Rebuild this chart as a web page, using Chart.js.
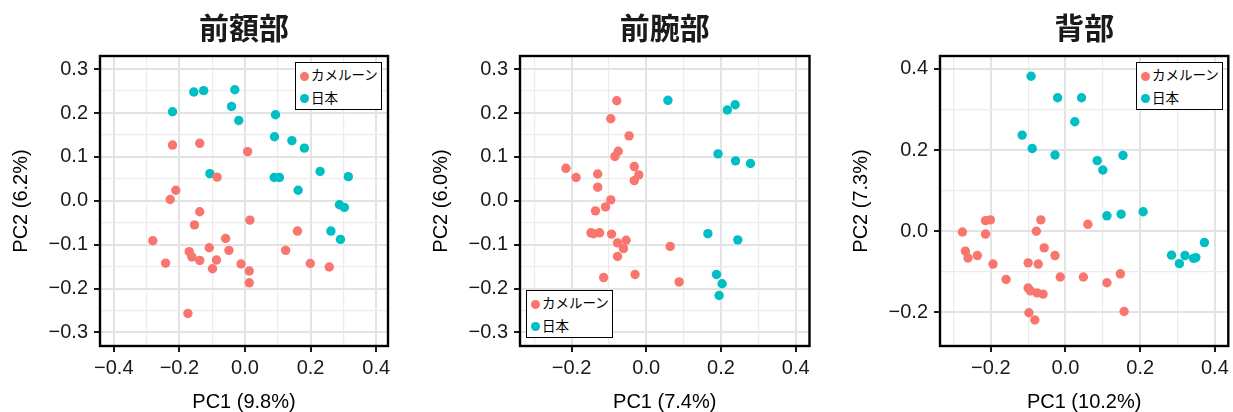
<!DOCTYPE html>
<html lang="ja">
<head>
<meta charset="UTF-8">
<title>PCA 前額部 / 前腕部 / 背部</title>
<script src="https://cdn.jsdelivr.net/npm/chart.js"></script>
<style>
  body { margin: 0; background: #fff; width: 1233px; height: 412px; position: relative; overflow: hidden; }
  .panel { position: absolute; top: 0; }
  .legend {
    position: absolute; background: #fff; border: 1.5px solid #000;
    font-family: "Noto Sans CJK JP", sans-serif; font-size: 13.5px; color: #000;
    box-sizing: border-box; width: 87px; height: 48px; padding-top: 0;
  }
  .legend div { height: 22.5px; line-height: 22.5px; white-space: nowrap; }
  .legend span.dot {
    display: inline-block; width: 9px; height: 9px; border-radius: 50%;
    margin: 0 2px 0 4px; vertical-align: -0.5px;
  }
</style>
</head>
<body>

<script>
    // groups
    const groups = ['カメルーン', '日本'];
    const colors = ['#F8766D', '#00BFC4'];

    // 前額部
    const foreheadCamX = [-0.221, -0.138, 0.008, -0.085, -0.211, -0.228, -0.138, -0.154, 0.015, -0.281,
        -0.059, -0.109, -0.049, -0.170, -0.162, -0.138, -0.087, -0.099, -0.242, -0.012,
        0.013, 0.013, -0.174, 0.160, 0.124, 0.199, 0.257];
    const foreheadCamY = [0.127, 0.131, 0.112, 0.054, 0.024, 0.003, -0.025, -0.055, -0.044, -0.091,
        -0.086, -0.107, -0.113, -0.116, -0.128, -0.136, -0.135, -0.155, -0.142, -0.144,
        -0.160, -0.187, -0.257, -0.069, -0.113, -0.143, -0.151];
    const foreheadJpnX = [-0.221, -0.156, -0.126, -0.031, -0.041, -0.019, 0.093, 0.090, 0.143, 0.181,
        -0.107, 0.089, 0.105, 0.229, 0.315, 0.162, 0.288, 0.303, 0.262, 0.291];
    const foreheadJpnY = [0.203, 0.248, 0.251, 0.253, 0.215, 0.183, 0.196, 0.146, 0.137, 0.120,
        0.062, 0.053, 0.053, 0.067, 0.055, 0.024, -0.009, -0.015, -0.069, -0.088];

    // 前腕部
    const forearmCamX = [-0.079, -0.095, -0.046, -0.075, -0.084, -0.215, -0.188, -0.130, -0.130, -0.032,
        -0.020, -0.032, -0.095, -0.109, -0.136, -0.148, -0.141, -0.125, -0.093, -0.054,
        -0.077, -0.061, -0.077, 0.064, -0.114, -0.030, 0.088];
    const forearmCamY = [0.228, 0.187, 0.148, 0.113, 0.101, 0.074, 0.053, 0.061, 0.031, 0.078,
        0.059, 0.046, 0.002, -0.014, -0.023, -0.073, -0.075, -0.073, -0.076, -0.090,
        -0.096, -0.109, -0.127, -0.104, -0.175, -0.168, -0.185];
    const forearmJpnX = [0.058, 0.238, 0.217, 0.192, 0.239, 0.279, 0.165, 0.245, 0.188, 0.203, 0.195];
    const forearmJpnY = [0.229, 0.219, 0.207, 0.107, 0.091, 0.085, -0.075, -0.089, -0.168, -0.189, -0.216];

    // 背部
    const backCamX = [-0.276, -0.268, -0.261, -0.236, -0.214, -0.201, -0.214, -0.194, -0.159, -0.100,
        -0.073, -0.078, -0.066, -0.057, -0.028, -0.014, -0.100, -0.094, -0.076, -0.060,
        -0.098, -0.082, 0.048, 0.060, 0.111, 0.147, 0.157];
    const backCamY = [-0.002, -0.049, -0.066, -0.060, 0.026, 0.028, -0.007, -0.081, -0.119, -0.078,
        -0.081, 0.000, 0.028, -0.041, -0.060, -0.113, -0.140, -0.147, -0.152, -0.155,
        -0.201, -0.219, -0.113, 0.017, -0.127, -0.105, -0.198];
    const backJpnX = [-0.092, -0.021, 0.043, 0.025, -0.116, -0.089, -0.028, 0.085, 0.100, 0.154,
        0.111, 0.149, 0.208, 0.284, 0.305, 0.320, 0.343, 0.349, 0.372];
    const backJpnY = [0.382, 0.329, 0.329, 0.270, 0.237, 0.204, 0.188, 0.174, 0.151, 0.187,
        0.038, 0.042, 0.048, -0.059, -0.080, -0.060, -0.067, -0.065, -0.028];

    // grid lines and labelled ticks
    const gridX1 = [-0.4, -0.3, -0.2, -0.1, 0, 0.1, 0.2, 0.3, 0.4];
    const labelX1 = [-0.4, -0.2, 0, 0.2, 0.4];
    const gridX23 = [-0.3, -0.2, -0.1, 0, 0.1, 0.2, 0.3, 0.4];
    const labelX23 = [-0.2, 0, 0.2, 0.4];
    const gridY12 = [-0.3, -0.25, -0.2, -0.15, -0.1, -0.05, 0, 0.05, 0.1, 0.15, 0.2, 0.25, 0.3];
    const labelY12 = [-0.3, -0.2, -0.1, 0, 0.1, 0.2, 0.3];
    const gridY3 = [-0.2, -0.1, 0, 0.1, 0.2, 0.3, 0.4];
    const labelY3 = [-0.2, 0, 0.2, 0.4];

    const panels = [
        { title: '前額部', xTitle: 'PC1 (9.8%)', yTitle: 'PC2 (6.2%)',
          cam: [foreheadCamX, foreheadCamY], jpn: [foreheadJpnX, foreheadJpnY],
          xMin: -0.442, xMax: 0.436, yMin: -0.331, yMax: 0.330,
          gridX: gridX1, labelX: labelX1, gridY: gridY12, labelY: labelY12,
          left: 0, width: 400, yWidth: 100, yTitlePad: 11, legend: [295, 62] },
        { title: '前腕部', xTitle: 'PC1 (7.4%)', yTitle: 'PC2 (6.0%)',
          cam: [forearmCamX, forearmCamY], jpn: [forearmJpnX, forearmJpnY],
          xMin: -0.338, xMax: 0.437, yMin: -0.331, yMax: 0.330,
          gridX: gridX23, labelX: labelX23, gridY: gridY12, labelY: labelY12,
          left: 410, width: 411, yWidth: 110, yTitlePad: 21, legend: [526, 290] },
        { title: '背部', xTitle: 'PC1 (10.2%)', yTitle: 'PC2 (7.3%)',
          cam: [backCamX, backCamY], jpn: [backJpnX, backJpnY],
          xMin: -0.336, xMax: 0.436, yMin: -0.283, yMax: 0.432,
          gridX: gridX23, labelX: labelX23, gridY: gridY3, labelY: labelY3,
          left: 830, width: 403, yWidth: 110, yTitlePad: 21, legend: [1136, 62] }
    ];

    const tickFont = { family: '"Liberation Sans", Arial, sans-serif', size: 20 };

    function hasVal(arr, v) {
        return arr.some(a => Math.abs(a - v) < 1e-9);
    }

    function fmt(v) {
        const s = Math.abs(v).toFixed(1);
        return v < -1e-9 ? '\u2212' + s : s;
    }

    function toPoints(xs, ys) {
        return xs.map((x, i) => ({ x: x, y: ys[i] }));
    }

    // black frame round the plot area
    const framePlugin = {
        id: 'frame',
        afterDraw(chart) {
            const a = chart.chartArea;
            const ctx = chart.ctx;
            ctx.save();
            ctx.strokeStyle = '#000';
            ctx.lineWidth = 2.4;
            ctx.strokeRect(a.left, a.top, a.right - a.left, a.bottom - a.top);
            ctx.restore();
        }
    };

    function axis(p, horizontal) {
        const grid = horizontal ? p.gridX : p.gridY;
        const labels = horizontal ? p.labelX : p.labelY;
        return {
            type: 'linear',
            min: horizontal ? p.xMin : p.yMin,
            max: horizontal ? p.xMax : p.yMax,
            afterBuildTicks: (scale) => {
                scale.ticks = grid.map(v => ({ value: v }));
            },
            afterFit: (scale) => {
                if (horizontal) scale.height = 66;
                else scale.width = p.yWidth;
            },
            ticks: {
                autoSkip: false,
                maxRotation: 0,
                padding: horizontal ? 4 : 6,
                color: '#1a1a1a',
                font: tickFont,
                callback: (v) => hasVal(labels, v) ? fmt(v) : ''
            },
            grid: {
                color: (c) => hasVal(labels, c.tick.value) ? '#e3e3e3' : '#ececec',
                lineWidth: (c) => hasVal(labels, c.tick.value) ? 2 : 1.2,
                tickColor: (c) => hasVal(labels, c.tick.value) ? '#000' : 'rgba(0,0,0,0)',
                tickLength: 6,
                tickWidth: 1.8
            },
            border: { display: false },
            title: {
                display: true,
                text: horizontal ? p.xTitle : p.yTitle,
                color: '#000',
                font: { family: '"Liberation Sans", Arial, sans-serif', size: 20, lineHeight: 1 },
                padding: horizontal ? { top: 0, bottom: 0 } : { top: p.yTitlePad, bottom: 0 }
            }
        };
    }

    panels.forEach((p) => {
        const canvas = document.createElement('canvas');
        canvas.className = 'panel';
        canvas.width = p.width;
        canvas.height = 412;
        canvas.style.left = p.left + 'px';
        document.body.appendChild(canvas);

        new Chart(canvas.getContext('2d'), {
            type: 'scatter',
            data: {
                datasets: [{
                    label: groups[0],
                    data: toPoints(p.cam[0], p.cam[1]),
                    backgroundColor: colors[0],
                    borderWidth: 0,
                    pointRadius: 4.7,
                    pointHoverRadius: 4.7
                }, {
                    label: groups[1],
                    data: toPoints(p.jpn[0], p.jpn[1]),
                    backgroundColor: colors[1],
                    borderWidth: 0,
                    pointRadius: 4.7,
                    pointHoverRadius: 4.7
                }]
            },
            options: {
                responsive: false,
                animation: false,
                devicePixelRatio: 1,
                layout: { padding: { left: 0, right: p.width - p.yWidth - (p.left === 0 ? 288 : 289.5), top: 0, bottom: 0 } },
                scales: {
                    x: axis(p, true),
                    y: axis(p, false)
                },
                plugins: {
                    legend: { display: false },
                    tooltip: { enabled: false },
                    title: {
                        display: true,
                        text: p.title,
                        fullSize: false,
                        color: '#1a1a1a',
                        font: { family: '"Noto Sans CJK JP", sans-serif', size: 30, weight: 'bold', lineHeight: 1.2 },
                        padding: { top: 10, bottom: 10 }
                    }
                }
            },
            plugins: [framePlugin]
        });

        // legend box inside the panel
        const lg = document.createElement('div');
        lg.className = 'legend';
        lg.style.left = p.legend[0] + 'px';
        lg.style.top = p.legend[1] + 'px';
        groups.forEach((g, i) => {
            const row = document.createElement('div');
            const dot = document.createElement('span');
            dot.className = 'dot';
            dot.style.background = colors[i];
            row.appendChild(dot);
            row.appendChild(document.createTextNode(g));
            lg.appendChild(row);
        });
        document.body.appendChild(lg);
    });
</script>
</body>
</html>
